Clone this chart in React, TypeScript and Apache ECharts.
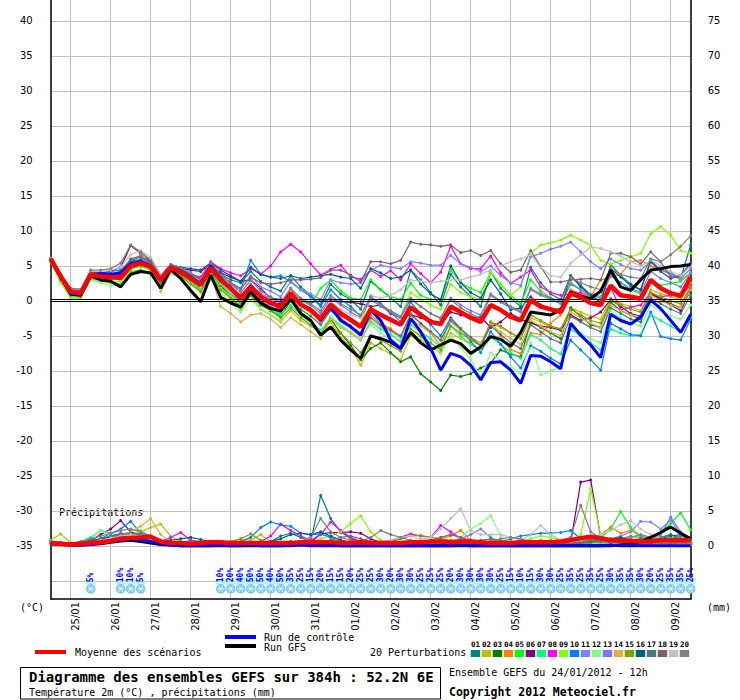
import React, { useEffect, useRef } from "react";
import * as echarts from "echarts";

// lead times (hours after 24/01/2012 12h), 6-hourly
const LEAD_HOURS = [0, 6, 12, 18, 24, 30, 36, 42, 48, 54, 60, 66, 72, 78, 84, 90, 96, 102, 108, 114, 120, 126, 132, 138, 144, 150, 156, 162, 168, 174, 180, 186, 192, 198, 204, 210, 216, 222, 228, 234, 240, 246, 252, 258, 264, 270, 276, 282, 288, 294, 300, 306, 312, 318, 324, 330, 336, 342, 348, 354, 360, 366, 372, 378, 384];
const DAY_LABELS = ["25/01", "26/01", "27/01", "28/01", "29/01", "30/01", "31/01", "01/02", "02/02", "03/02", "04/02", "05/02", "06/02", "07/02", "08/02", "09/02"];
const LEFT_TICKS = [-35, -30, -25, -20, -15, -10, -5, 0, 5, 10, 15, 20, 25, 30, 35, 40];
const RIGHT_TICKS = [0, 5, 10, 15, 20, 25, 30, 35, 40, 45, 50, 55, 60, 65, 70, 75];

// temperature 2m (°C)
const T_MEAN = [6.0, 3.5, 1.3, 1.1, 3.8, 3.5, 3.4, 3.3, 5.0, 5.4, 4.9, 3.0, 4.8, 4.1, 3.2, 2.3, 4.7, 3.0, 1.8, 0.4, 2.0, 0.6, -0.2, -0.9, 1.1, -0.5, -1.3, -2.6, -0.5, -1.8, -2.7, -3.7, -1.2, -2.0, -2.7, -3.4, -0.9, -2.0, -3.0, -3.3, -0.8, -1.6, -2.4, -3.0, -0.6, -1.3, -2.3, -2.8, 0.1, -0.8, -1.2, -1.6, 1.1, 0.5, -0.3, -0.6, 2.2, 0.8, 0.6, 0.3, 3.0, 1.8, 1.1, 0.7, 3.4];
const T_CTRL = [6.0, 3.4, 1.0, 0.9, 3.6, 3.9, 3.8, 4.0, 5.3, 5.6, 5.0, 3.1, 4.9, 4.3, 3.4, 2.5, 5.0, 3.2, 1.8, 0.2, 2.2, 0.5, -0.4, -0.6, 1.1, -0.5, -1.2, -2.8, -0.9, -2.8, -3.7, -4.9, -1.3, -2.8, -5.6, -6.8, -2.5, -4.4, -6.8, -9.9, -7.5, -8.0, -9.2, -11.3, -8.8, -8.7, -9.9, -11.8, -7.8, -7.9, -8.7, -9.7, -3.2, -4.9, -6.3, -8.1, -1.9, -2.8, -3.3, -2.3, 0.1, -1.1, -2.8, -4.5, -1.9];
const T_GFS = [6.0, 3.4, 1.0, 0.8, 3.6, 3.0, 2.8, 2.0, 3.8, 4.2, 4.0, 1.8, 4.5, 3.2, 1.5, -0.1, 3.7, 0.5, -0.3, -0.9, 1.3, -0.3, -1.1, -1.4, 0.3, -1.8, -2.8, -4.9, -3.7, -5.6, -7.0, -8.2, -5.0, -5.4, -5.9, -6.8, -4.5, -6.0, -7.0, -6.3, -5.6, -6.1, -7.5, -6.6, -5.1, -5.5, -6.5, -4.5, -1.6, -1.8, -2.0, -1.3, 1.3, 0.7, 0.3, 1.4, 4.4, 2.0, 1.5, 3.0, 4.4, 4.6, 4.9, 5.0, 5.2];

const T01 = [5.8, 3.6, 1.8, 1.6, 4.0, 3.8, 3.6, 3.8, 5.2, 5.8, 5.0, 3.2, 5.0, 4.4, 3.8, 3.2, 5.2, 3.8, 3.0, 2.6, 4.2, 2.8, 2.0, 1.4, 3.6, 2.0, 0.8, -0.6, 2.4, 1.0, 0.2, -1.2, 2.8, 1.6, 0.4, -0.8, 4.4, 3.0, 1.2, -0.6, 3.8, 2.0, 0.6, -0.8, 4.2, 1.8, 0.4, -0.8, 4.8, 2.6, 1.0, 0.2, 3.6, 2.2, 0.8, -0.2, 5.2, 3.6, 2.4, 1.6, 5.8, 4.4, 4.0, 3.2, 8.0];
const T02 = [5.9, 3.2, 1.0, 0.9, 3.4, 3.2, 3.0, 3.4, 5.6, 6.6, 6.0, 3.6, 4.6, 3.6, 2.4, 1.2, 4.0, 2.0, 0.2, -1.2, 0.8, -1.2, -2.0, -3.0, -1.4, -2.8, -3.6, -4.6, -3.0, -5.2, -6.6, -9.2, -6.0, -6.8, -7.6, -8.4, -5.0, -5.6, -6.6, -7.4, -4.6, -5.4, -6.2, -6.8, -3.2, -3.8, -4.6, -5.2, -2.4, -3.0, -3.8, -4.2, -1.0, -1.6, -2.2, -2.6, 0.4, -0.4, -0.8, -1.4, 1.6, 1.0, 0.6, 0.2, 2.6];
const T03 = [6.0, 3.2, 1.2, 1.0, 3.6, 3.4, 3.2, 3.0, 4.6, 5.0, 4.6, 2.6, 4.4, 3.6, 2.8, 1.8, 4.2, 2.2, 0.6, -0.8, 1.0, -0.6, -1.4, -2.2, 0.0, -1.6, -2.8, -4.4, -2.6, -4.6, -6.4, -8.4, -6.8, -6.0, -7.4, -8.7, -8.0, -10.4, -11.6, -12.8, -10.6, -10.8, -10.4, -9.6, -8.9, -7.0, -7.6, -8.0, -3.0, -3.8, -4.6, -5.4, -1.0, -2.2, -3.4, -3.8, -0.2, -1.4, -2.0, -2.6, 1.0, 0.2, -0.4, -1.0, 1.8];
const T04 = [6.0, 3.6, 1.4, 1.2, 3.8, 3.6, 3.4, 3.6, 5.6, 6.0, 5.2, 2.2, 4.6, 4.2, 3.4, 2.4, 4.4, 3.0, 1.6, 0.2, 2.2, 0.2, -0.6, -1.4, 1.6, -0.4, -1.6, -3.0, -0.8, -2.4, -3.6, -4.8, -2.0, -3.2, -4.0, -5.2, -1.8, -3.2, -4.6, -6.4, -2.4, -4.0, -5.4, -6.4, -3.0, -5.0, -7.0, -7.5, -4.6, -4.8, -3.2, -2.0, 1.6, 1.0, 0.6, 3.0, 3.4, 3.8, 5.6, 5.8, 5.0, 4.4, 3.8, 3.0, 4.0];
const T05 = [5.6, 2.8, 0.6, 0.5, 3.6, 3.2, 2.6, 2.4, 4.2, 4.4, 4.0, 2.2, 4.2, 3.4, 2.6, 1.6, 3.8, 2.4, 1.0, -0.4, 1.2, -0.2, -1.0, -1.8, 1.0, 0.0, -0.6, 1.8, 3.0, 1.4, 0.4, 0.2, 3.0, 1.6, 0.6, 0.2, 2.5, 0.8, 0.2, 0.1, 4.4, 2.6, 1.8, 1.2, 4.1, 2.4, 0.8, -0.4, 3.0, 1.4, 0.4, -0.4, 2.6, 1.6, 1.0, 0.6, 3.8, 2.6, 1.6, 1.0, 3.0, 2.2, 2.5, 2.8, 4.0];
const T06 = [6.1, 3.8, 1.6, 1.4, 4.2, 4.0, 4.2, 4.8, 7.9, 6.8, 5.6, 3.4, 4.8, 4.6, 4.4, 4.2, 5.2, 4.0, 3.4, 2.8, 3.0, 1.8, 0.4, 0.2, 0.1, 0.0, -0.2, 0.0, 0.2, -0.1, -0.2, -0.4, -0.8, -0.6, -1.8, -2.4, -2.0, -2.4, -2.8, -3.4, -1.6, -2.0, -2.4, -2.3, -3.8, -3.0, -1.8, -2.6, -3.2, -3.6, -3.8, -4.2, -2.0, -2.8, -2.4, -1.6, 0.2, -0.8, -1.8, -2.2, 1.0, 0.4, -0.6, -1.4, 1.6];
const T07 = [5.8, 3.0, 0.8, 0.8, 3.2, 3.0, 3.0, 3.2, 4.8, 5.0, 4.4, 2.8, 4.4, 3.8, 2.8, 1.8, 4.4, 2.4, 1.0, -0.4, 1.4, -0.4, -1.2, -2.0, -0.6, -2.0, -3.0, -4.2, -2.4, -3.6, -4.6, -5.6, -3.0, -4.0, -4.8, -5.8, -3.4, -4.4, -5.4, -6.6, -3.6, -5.0, -6.2, -7.2, -5.2, -6.2, -7.4, -8.2, -4.8, -5.6, -6.8, -7.6, -4.0, -5.0, -6.0, -7.0, -4.0, -4.6, -5.0, -4.8, -2.0, -2.8, -3.6, -4.4, -2.4];
const T08 = [6.0, 3.4, 1.2, 1.0, 3.4, 3.6, 3.6, 3.6, 5.0, 5.4, 5.0, 3.4, 4.6, 4.2, 3.8, 3.4, 5.6, 4.6, 4.0, 3.6, 4.6, 3.8, 5.0, 7.0, 8.1, 7.0, 5.3, 3.7, 4.5, 5.1, 3.4, 3.1, 4.4, 3.5, 4.3, 3.0, 5.3, 3.9, 2.6, 4.1, 7.8, 5.3, 4.6, 4.6, 6.4, 4.0, 2.5, 3.4, 4.4, 2.0, 1.2, 0.8, 1.0, 1.2, 0.8, 1.3, 2.0, -1.3, -0.9, -0.6, 1.1, 0.6, 0.8, 0.8, 2.2];
const T09 = [5.6, 2.6, 0.4, 0.4, 3.0, 2.8, 2.6, 2.8, 4.6, 5.0, 4.4, 2.4, 4.2, 3.6, 2.6, 1.4, 3.6, 1.8, 0.6, -0.8, 1.4, 0.0, -0.8, -1.6, 0.6, -0.8, -1.8, -2.8, -0.6, -1.8, -2.6, -3.2, 0.6, -0.6, -1.4, -2.2, 1.2, 0.2, -0.6, -1.2, 2.4, 1.2, 0.6, 0.2, 4.2, 2.4, 0.8, 2.0, 6.8, 8.0, 8.3, 8.7, 9.4, 8.7, 8.0, 5.8, 5.3, 5.8, 6.3, 6.8, 9.6, 10.6, 9.4, 7.2, 6.8];
const T10 = [5.8, 3.4, 1.4, 1.2, 3.8, 4.0, 4.2, 4.4, 5.8, 6.2, 5.4, 3.4, 5.0, 4.6, 3.6, 2.6, 5.0, 3.6, 2.4, 1.6, 5.8, 3.8, 3.4, 3.6, 2.7, 1.6, 0.6, -0.8, 1.6, 0.2, -0.8, -2.2, 0.6, -0.4, -1.6, -3.0, -0.2, -1.8, -3.4, -5.0, -2.4, -4.0, -5.8, -7.4, -4.4, -6.2, -8.0, -9.6, -6.4, -7.2, -8.2, -9.0, -5.6, -7.0, -8.4, -9.9, -3.2, -4.0, -4.8, -5.0, -1.6, -5.1, -5.4, -5.6, -2.6];
const T11 = [6.0, 3.6, 1.4, 1.2, 4.0, 3.8, 3.8, 4.0, 5.6, 6.0, 5.2, 3.2, 5.0, 4.4, 3.8, 3.0, 5.0, 3.6, 2.6, 1.6, 3.6, 2.0, 1.4, 0.6, 2.8, 1.6, 1.0, 0.2, 3.0, 2.6, 2.4, 2.6, 4.4, 5.1, 4.8, 4.6, 5.6, 5.4, 5.1, 5.1, 6.5, 5.3, 4.8, 4.2, 5.0, 3.6, 2.6, 2.2, 6.3, 6.8, 7.4, 7.8, 8.4, 7.0, 5.6, 4.6, 6.0, 5.2, 4.6, 4.4, 5.6, 4.6, 3.8, 3.2, 4.6];
const T12 = [5.6, 2.8, 0.8, 0.6, 3.0, 2.6, 2.2, 2.2, 3.8, 4.2, 3.8, 2.2, 4.0, 3.2, 1.1, -0.1, 3.0, 1.2, -0.2, -1.6, 0.2, -1.2, -2.0, -2.8, -1.0, -2.2, -3.2, -4.4, -2.2, -3.4, -4.4, -5.4, -3.4, -4.6, -5.6, -6.8, -4.0, -5.2, -6.4, -7.6, -5.0, -6.6, -8.4, -11.0, -7.4, -8.6, -9.4, -10.4, -6.0, -10.6, -10.0, -9.4, -3.8, -4.6, -5.4, -6.0, -1.4, -2.4, -3.2, -3.6, -0.6, -1.4, -2.2, -2.6, -0.6];
const T13 = [6.0, 3.6, 1.6, 1.4, 4.0, 3.6, 3.6, 4.0, 5.4, 5.8, 5.0, 3.0, 4.8, 4.2, 3.4, 2.6, 4.8, 3.2, 2.0, 0.8, 2.4, 1.0, 0.4, -0.4, 1.8, 0.2, -0.6, -1.8, 0.4, -0.6, -1.6, -2.4, 0.2, -0.8, -1.6, -2.4, 0.2, -0.8, -1.8, -2.6, 0.4, -0.6, -1.4, -2.0, 1.0, 0.0, -0.8, -1.4, 1.6, 0.8, 0.2, -0.4, 2.4, 1.6, 0.8, 0.4, 3.6, 2.6, 1.8, 1.2, 4.2, 3.2, 2.6, 2.0, 4.0];
const T14 = [6.0, 3.4, 1.2, 1.0, 3.4, 3.0, 2.6, 2.2, 4.6, 6.6, 6.0, 1.3, 4.0, 3.4, 2.4, 1.4, 3.8, -0.8, -1.8, -3.0, -2.0, -1.8, -2.6, -3.8, -2.4, -3.4, -4.4, -5.4, -2.6, -3.8, -4.6, -5.6, -2.8, -3.6, -4.4, -5.2, -2.6, -3.6, -4.6, -5.6, -3.0, -4.2, -5.2, -6.0, -3.4, -4.4, -5.4, -6.2, -2.8, -3.6, -4.4, -5.0, -1.6, -2.4, -3.2, -3.8, -0.6, -1.4, -2.0, -2.4, 0.8, 0.0, -0.6, -1.0, 1.6];
const T15 = [5.8, 3.0, 0.8, 0.6, 3.2, 3.0, 3.0, 3.2, 4.6, 5.0, 4.6, 2.6, 4.4, 3.6, 2.4, 1.4, 3.6, 1.6, 0.4, -0.8, 0.8, -0.6, -1.4, -2.4, -1.0, -2.4, -3.4, -4.6, -3.8, -4.6, -6.0, -7.4, -5.0, -5.6, -6.4, -7.2, -4.0, -5.0, -6.0, -7.0, -3.6, -4.6, -5.6, -6.4, -3.0, -3.6, -4.6, -5.4, -2.0, -2.8, -3.6, -4.0, -1.2, -2.0, -2.8, -3.2, 0.0, -0.6, -1.2, -1.6, 1.2, 0.6, 0.0, -0.4, 2.0];
const T16 = [6.0, 3.8, 1.8, 1.6, 4.2, 4.0, 3.8, 4.2, 5.6, 5.8, 5.2, 3.4, 5.2, 4.8, 4.6, 4.4, 5.4, 4.4, 3.6, 2.8, 4.8, 3.8, 3.4, 3.2, 3.6, 3.2, 3.4, 3.6, 3.8, 3.4, 3.2, 1.8, 4.6, 4.0, 3.2, 3.4, 4.4, 2.4, 1.0, 0.2, 5.0, 2.6, 1.2, 0.4, 3.0, 1.0, -1.3, -1.0, 0.6, -0.6, -1.2, -1.1, 3.6, 2.0, 0.8, -0.2, 4.6, 3.4, 2.2, 1.6, 5.6, 4.2, 3.2, 3.6, 5.4];
const T17 = [5.9, 3.4, 1.2, 1.0, 3.6, 3.4, 3.2, 3.2, 4.8, 5.2, 4.6, 2.8, 4.6, 4.0, 3.0, 2.0, 4.4, 2.6, 1.2, -0.2, 1.6, 0.0, -0.8, -1.6, 0.4, -1.2, -2.2, -3.4, -1.4, -2.6, -3.6, -4.6, -2.4, -3.4, -4.2, -5.0, -2.0, -3.2, -4.4, -5.6, -2.8, -4.0, -5.2, -6.4, -3.6, -4.8, -6.0, -6.8, -3.4, -4.4, -5.4, -6.0, -2.2, -3.0, -3.8, -4.4, -1.0, -1.8, -2.6, -3.0, 0.4, -0.4, -1.2, -1.8, 0.8];
const T18 = [6.0, 3.6, 1.4, 1.2, 4.0, 3.8, 3.8, 4.2, 6.0, 6.4, 5.4, 3.6, 5.2, 4.6, 3.8, 3.0, 5.0, 3.6, 2.6, 1.8, 3.4, 2.6, 2.4, 2.6, 3.0, 3.0, 3.1, 3.3, 4.4, 4.4, 3.7, 2.7, 5.6, 5.6, 5.3, 5.8, 8.4, 8.1, 8.0, 7.8, 8.0, 6.9, 7.2, 6.5, 7.2, 5.3, 4.1, 4.4, 7.2, 4.9, 2.7, 2.7, 3.0, 3.1, 3.2, 3.0, 6.8, 6.8, 6.3, 5.3, 7.0, 5.6, 3.4, 3.6, 5.3];
const T19 = [6.1, 3.8, 1.8, 1.6, 4.2, 4.2, 4.4, 4.8, 6.6, 7.2, 6.2, 3.8, 5.0, 4.4, 3.2, 2.0, 4.4, 2.6, 1.2, 0.0, 1.8, 0.2, -0.6, -1.4, 0.6, -0.8, -1.6, -2.6, -0.2, -1.2, -2.0, -2.4, 0.8, 0.4, 0.8, 1.6, 3.0, 2.8, 2.6, 2.8, 3.0, 3.0, 3.4, 3.8, 4.4, 5.0, 5.6, 6.0, 6.6, 4.8, 3.6, 3.4, 5.4, 6.6, 7.7, 7.5, 7.0, 6.4, 5.6, 5.0, 5.8, 5.0, 4.2, 3.6, 5.0];
const T20 = [6.0, 3.8, 1.8, 1.6, 4.4, 4.4, 4.6, 5.4, 8.0, 7.0, 5.8, 3.6, 5.2, 4.8, 4.0, 3.2, 5.4, 3.8, 2.4, 1.2, 3.0, 1.4, 0.6, -0.2, 1.8, 0.4, -0.4, -1.4, 0.8, -0.4, -1.2, -2.0, 0.6, -0.6, -1.4, -2.2, 0.4, -0.8, -1.8, -2.4, 0.2, -1.0, -1.8, -2.6, 0.8, -0.2, -1.0, -1.6, 1.8, 1.0, 0.4, 0.0, 3.4, 2.6, 2.0, 1.6, 4.6, 3.8, 3.4, 3.2, 6.0, 5.6, 6.6, 7.8, 9.3];

// precipitation (mm / 6h)
const P_MEAN = [0.4, 0.3, 0.2, 0.3, 0.4, 0.5, 0.7, 1.0, 1.1, 1.2, 1.3, 0.6, 0.4, 0.4, 0.3, 0.4, 0.5, 0.5, 0.4, 0.4, 0.4, 0.4, 0.4, 0.4, 0.4, 0.5, 0.5, 0.5, 0.5, 0.4, 0.4, 0.5, 0.4, 0.4, 0.4, 0.4, 0.5, 0.5, 0.6, 0.6, 0.5, 0.6, 0.6, 0.5, 0.4, 0.4, 0.4, 0.5, 0.5, 0.5, 0.5, 0.6, 0.8, 1.1, 1.3, 1.1, 0.8, 0.8, 0.7, 0.6, 0.6, 0.8, 0.8, 0.8, 0.8];
const P_CTRL = [0.3, 0.2, 0.1, 0.1, 0.2, 0.4, 0.6, 0.8, 1.0, 0.8, 0.6, 0.3, 0.1, 0, 0, 0, 0, 0.1, 0, 0, 0.1, 0, 0, 0, 0, 0.1, 0, 0, 0, 0, 0, 0, 0, 0, 0, 0, 0, 0, 0, 0, 0, 0.1, 0, 0, 0, 0, 0, 0, 0, 0, 0, 0, 0, 0, 0, 0, 0.1, 0, 0, 0, 0, 0, 0, 0, 0];
const P_GFS = [0.3, 0.2, 0.1, 0.1, 0.2, 0.3, 0.5, 0.7, 0.8, 0.6, 0.4, 0.2, 0.1, 0, 0, 0, 0, 0, 0, 0, 0, 0, 0, 0, 0.1, 0.2, 0.3, 0.2, 0.1, 0, 0, 0, 0, 0, 0, 0, 0, 0, 0, 0, 0, 0, 0, 0, 0, 0, 0, 0, 0, 0, 0, 0, 0, 0, 0, 0, 0, 0.1, 0.2, 0.6, 1.2, 1.9, 2.7, 1.8, 1.0];

const P01 = [0.6, 0.4, 0.3, 0.4, 0.6, 0.8, 1.0, 1.4, 1.6, 1.8, 1.2, 0.6, 0.3, 0.4, 0.8, 0.6, 0.4, 0.2, 0.2, 0.3, 0.2, 0.4, 0.6, 1.4, 1.8, 1.2, 0.6, 7.2, 3.9, 2.0, 1.0, 0.6, 0.3, 0.2, 0.2, 0.3, 0.2, 0.2, 0.3, 0.4, 0.3, 0.2, 0.2, 0.2, 0.3, 0.2, 0.2, 0.2, 0.4, 0.6, 0.4, 0.3, 0.6, 0.4, 0.5, 0.6, 0.4, 1.2, 0.8, 0.6, 0.8, 1.2, 1.6, 1.0, 0.6];
const P02 = [0.8, 1.7, 0.4, 0.3, 0.4, 0.6, 0.8, 1.0, 1.2, 2.0, 2.6, 3.1, 1.4, 0.6, 0.3, 0.2, 0.2, 0.2, 0.6, 1.0, 0.8, 1.6, 0.6, 0.3, 0.2, 0.2, 0.2, 0.3, 0.2, 0.3, 0.2, 0.4, 0.3, 0.3, 0.2, 0.2, 0.3, 0.4, 0.3, 0.2, 0.2, 0.3, 0.2, 0.2, 0.2, 0.2, 0.3, 0.2, 0.2, 0.3, 0.2, 0.3, 0.2, 0.4, 0.6, 0.3, 0.2, 0.3, 0.5, 0.4, 0.3, 0.2, 0.4, 0.6, 0.4];
const P03 = [0.5, 0.3, 0.2, 0.2, 0.3, 0.5, 0.8, 1.2, 1.4, 1.6, 1.0, 0.5, 0.2, 0.1, 0.1, 0.1, 0.1, 0.1, 0.2, 0.3, 0.2, 0.1, 0.2, 0.4, 0.6, 0.4, 0.2, 0.3, 0.2, 0.2, 0.1, 0.2, 0.3, 0.2, 0.1, 0.1, 0.2, 0.2, 0.1, 0.1, 0.2, 0.2, 0.1, 0.1, 0.2, 0.3, 0.2, 0.1, 0.2, 0.2, 0.3, 0.2, 0.1, 0.3, 0.6, 0.8, 0.5, 0.3, 0.2, 0.3, 0.4, 0.3, 0.2, 0.3, 0.2];
const P04 = [0.5, 0.3, 0.2, 0.4, 0.6, 0.9, 1.2, 1.6, 2.0, 1.5, 1.0, 0.6, 0.4, 0.3, 0.2, 0.2, 0.1, 0.1, 0.2, 0.1, 0.1, 0.2, 0.3, 0.2, 0.2, 0.3, 0.2, 0.3, 0.5, 0.4, 0.3, 0.2, 0.2, 0.1, 0.2, 0.3, 0.4, 0.3, 0.6, 1.0, 1.4, 2.2, 0.8, 0.4, 0.2, 0.2, 0.2, 0.2, 0.3, 0.4, 0.6, 0.5, 0.3, 0.6, 1.0, 1.6, 2.7, 1.8, 2.2, 1.4, 0.8, 1.0, 0.6, 0.4, 0.3];
const P05 = [0.3, 0.2, 0.2, 0.3, 0.5, 0.8, 1.0, 1.2, 1.4, 1.2, 0.8, 0.4, 0.3, 0.2, 0.2, 0.2, 0.3, 0.2, 0.2, 0.2, 0.3, 0.2, 0.2, 0.3, 0.2, 0.2, 0.2, 0.4, 0.6, 0.8, 0.6, 0.4, 0.3, 0.2, 0.2, 0.2, 0.3, 0.4, 0.3, 0.2, 0.2, 0.3, 0.4, 0.3, 0.6, 0.8, 0.5, 0.3, 0.4, 0.6, 0.8, 0.6, 0.4, 0.6, 0.8, 1.2, 2.4, 4.9, 2.6, 1.4, 1.0, 2.0, 3.2, 4.7, 2.3];
const P06 = [0.4, 0.3, 0.3, 0.5, 0.8, 1.6, 2.4, 3.6, 2.0, 1.6, 1.4, 0.8, 0.4, 0.3, 0.2, 0.2, 0.2, 0.2, 0.3, 0.2, 0.2, 0.2, 0.2, 0.3, 0.2, 0.3, 0.5, 1.7, 1.9, 1.9, 2.0, 1.8, 1.0, 0.5, 0.3, 0.2, 0.2, 0.3, 0.2, 0.2, 0.2, 0.3, 0.2, 0.2, 0.3, 0.4, 0.3, 0.2, 0.2, 0.3, 0.2, 0.3, 0.5, 9.1, 9.4, 1.2, 0.6, 0.5, 0.4, 0.3, 0.3, 0.4, 0.3, 0.2, 0.2];
const P07 = [0.4, 0.3, 0.3, 0.6, 1.2, 2.2, 1.8, 1.4, 1.2, 1.0, 0.8, 0.6, 0.4, 0.3, 0.4, 0.3, 0.2, 0.2, 0.1, 0.2, 0.2, 0.1, 0.2, 0.3, 0.4, 0.3, 0.2, 0.3, 0.2, 0.2, 0.3, 0.4, 0.3, 0.2, 0.2, 0.1, 0.2, 0.2, 0.3, 0.2, 0.2, 0.2, 0.3, 0.2, 0.2, 0.3, 0.4, 0.3, 0.4, 0.3, 0.2, 0.3, 0.4, 0.6, 0.4, 0.3, 0.4, 0.6, 0.8, 0.6, 0.5, 0.6, 0.8, 1.0, 0.6];
const P08 = [0.5, 0.4, 0.3, 0.4, 0.6, 1.0, 1.4, 1.8, 1.5, 1.2, 0.8, 0.6, 1.2, 1.9, 0.8, 0.4, 0.3, 0.2, 0.2, 0.2, 0.3, 0.6, 1.4, 3.1, 2.2, 1.4, 0.8, 1.6, 3.4, 2.2, 1.2, 0.6, 0.4, 0.5, 0.8, 1.2, 1.7, 1.4, 1.2, 2.9, 2.0, 1.0, 0.8, 0.6, 0.4, 0.5, 0.6, 0.4, 0.3, 0.4, 0.6, 0.8, 1.2, 0.6, 0.4, 0.3, 0.2, 0.3, 0.2, 0.3, 0.2, 0.3, 0.4, 0.3, 0.2];
const P09 = [0.4, 0.3, 0.2, 0.3, 0.5, 0.7, 1.0, 1.3, 1.6, 2.2, 1.4, 0.6, 0.3, 0.2, 0.2, 0.3, 0.2, 0.2, 0.3, 0.2, 0.2, 0.3, 0.2, 0.2, 0.3, 0.4, 0.6, 1.0, 1.4, 2.0, 3.2, 4.3, 2.0, 0.8, 0.4, 0.3, 0.2, 0.3, 0.4, 0.5, 0.8, 0.9, 0.6, 0.4, 0.6, 0.8, 0.6, 0.7, 1.0, 1.4, 1.2, 0.8, 0.4, 1.6, 8.1, 1.6, 0.6, 1.0, 1.2, 1.0, 0.8, 0.6, 1.2, 0.8, 0.4];
const P10 = [0.5, 0.3, 0.2, 0.3, 0.6, 1.0, 1.8, 2.4, 3.5, 1.8, 1.0, 0.5, 0.3, 0.2, 0.2, 0.2, 0.3, 0.2, 0.3, 0.6, 1.2, 2.6, 3.4, 3.0, 2.8, 1.8, 1.6, 1.7, 1.2, 0.8, 0.5, 0.3, 0.2, 0.2, 0.3, 0.2, 0.2, 0.2, 0.3, 0.2, 0.2, 0.3, 0.2, 0.2, 0.3, 0.6, 1.0, 1.4, 1.6, 1.8, 1.8, 1.9, 2.2, 1.0, 0.6, 0.4, 0.3, 0.2, 0.3, 0.2, 0.2, 0.3, 0.2, 0.2, 0.3];
const P11 = [0.4, 0.3, 0.2, 0.3, 0.5, 0.8, 1.2, 1.6, 1.8, 1.4, 1.0, 0.5, 0.3, 0.2, 0.2, 0.2, 0.2, 0.3, 0.2, 0.2, 0.2, 0.3, 0.2, 0.2, 0.3, 0.2, 0.3, 0.5, 0.4, 0.3, 0.2, 0.3, 0.6, 0.4, 0.3, 0.2, 0.2, 0.3, 0.4, 0.6, 0.6, 1.0, 1.6, 2.4, 1.2, 0.5, 0.3, 0.2, 0.2, 0.3, 0.4, 0.3, 0.2, 0.3, 0.5, 0.8, 1.0, 1.4, 2.0, 3.5, 3.4, 2.4, 3.7, 1.6, 0.8];
const P12 = [0.4, 0.3, 0.2, 0.4, 1.0, 2.2, 1.4, 1.0, 1.2, 1.4, 1.0, 0.6, 0.4, 0.3, 0.2, 0.2, 0.2, 0.2, 0.3, 0.2, 0.3, 0.2, 0.2, 0.3, 0.2, 0.2, 0.3, 0.4, 0.3, 0.2, 0.2, 0.3, 0.2, 0.2, 0.3, 0.2, 0.2, 0.2, 0.3, 0.4, 0.6, 1.2, 2.4, 3.2, 4.3, 1.4, 0.5, 0.3, 0.2, 0.2, 0.3, 0.4, 0.3, 0.2, 0.3, 0.4, 0.3, 0.4, 0.6, 0.4, 0.3, 0.2, 0.3, 0.2, 0.2];
const P13 = [0.5, 0.4, 0.3, 0.4, 0.6, 0.8, 1.0, 1.4, 1.6, 1.8, 1.2, 0.6, 0.4, 0.3, 0.2, 0.2, 0.2, 0.2, 0.2, 0.3, 0.2, 0.2, 0.3, 0.2, 0.3, 0.2, 0.2, 0.3, 0.2, 0.2, 0.3, 0.2, 0.2, 0.3, 0.2, 0.2, 0.2, 0.3, 0.2, 0.2, 0.3, 0.4, 0.3, 0.2, 0.3, 0.2, 0.2, 0.3, 0.2, 0.3, 0.4, 0.3, 0.4, 0.6, 0.8, 1.0, 0.8, 1.0, 1.4, 1.2, 0.8, 1.6, 4.1, 2.0, 1.0];
const P14 = [0.5, 0.3, 0.2, 0.3, 0.5, 0.8, 1.0, 1.4, 2.0, 2.8, 3.9, 1.6, 0.6, 0.3, 0.2, 0.2, 0.2, 0.1, 0.2, 0.1, 0.2, 0.2, 0.3, 0.2, 0.2, 0.3, 0.2, 0.2, 0.3, 0.2, 0.2, 0.2, 0.3, 0.2, 0.2, 0.2, 0.3, 0.2, 0.2, 0.4, 0.6, 0.4, 0.3, 0.2, 0.2, 0.3, 0.2, 0.2, 0.3, 0.2, 0.2, 0.3, 0.4, 0.6, 0.8, 0.6, 0.4, 0.6, 0.8, 0.6, 0.4, 0.3, 0.4, 0.3, 0.2];
const P15 = [0.5, 0.4, 0.3, 0.3, 0.4, 0.6, 0.8, 1.0, 1.2, 1.0, 0.8, 0.6, 0.3, 0.2, 0.2, 0.2, 0.3, 0.4, 0.6, 1.0, 1.7, 0.8, 0.3, 0.2, 0.2, 0.2, 0.3, 0.2, 0.2, 0.3, 0.2, 0.2, 0.3, 0.4, 0.6, 1.0, 1.4, 1.5, 1.2, 1.0, 0.8, 0.6, 0.4, 0.3, 0.3, 0.2, 0.2, 0.3, 0.2, 0.2, 0.3, 0.4, 0.3, 0.2, 0.4, 0.6, 0.8, 0.6, 0.5, 0.4, 0.4, 0.3, 0.4, 0.5, 0.3];
const P16 = [0.6, 0.4, 0.3, 0.5, 0.8, 1.0, 1.2, 1.4, 1.2, 1.0, 0.8, 0.7, 0.8, 1.0, 1.2, 0.9, 0.6, 0.4, 0.3, 0.2, 0.2, 0.3, 0.6, 1.0, 1.6, 1.8, 1.6, 2.0, 1.4, 0.8, 0.4, 0.3, 0.2, 0.2, 0.3, 0.2, 0.2, 0.3, 0.2, 0.2, 0.3, 0.2, 0.2, 0.3, 0.2, 0.2, 0.2, 0.3, 0.2, 0.3, 0.2, 0.2, 0.3, 0.4, 0.6, 0.8, 1.0, 1.2, 0.8, 0.6, 0.8, 1.0, 1.4, 1.6, 1.2];
const P17 = [0.4, 0.3, 0.3, 0.4, 0.6, 1.0, 1.4, 1.6, 1.8, 1.6, 1.2, 0.8, 0.4, 0.3, 0.2, 0.3, 0.4, 0.3, 0.2, 0.2, 0.3, 0.2, 0.2, 0.3, 0.2, 0.2, 0.3, 0.4, 0.6, 0.4, 0.3, 0.2, 0.2, 0.3, 0.2, 0.2, 0.3, 0.2, 0.2, 0.2, 0.3, 0.4, 0.6, 0.8, 1.0, 0.8, 0.5, 0.3, 0.2, 0.2, 0.3, 0.2, 0.3, 0.6, 0.8, 0.6, 0.5, 0.6, 0.8, 1.0, 0.8, 0.6, 1.0, 1.4, 0.8];
const P18 = [0.4, 0.3, 0.3, 0.4, 0.5, 0.7, 0.9, 1.2, 1.4, 1.2, 0.8, 0.5, 0.3, 0.2, 0.2, 0.2, 0.2, 0.2, 0.3, 0.2, 0.2, 0.2, 0.3, 0.2, 0.2, 0.3, 0.4, 0.6, 0.8, 1.2, 1.4, 1.0, 0.6, 0.4, 0.3, 0.3, 0.4, 0.6, 0.8, 1.2, 1.6, 1.2, 0.8, 0.6, 0.4, 0.3, 0.2, 0.2, 0.3, 0.4, 0.3, 0.2, 0.3, 0.4, 0.6, 0.8, 0.6, 0.4, 0.6, 0.8, 0.6, 0.4, 0.3, 0.4, 0.3];
const P19 = [0.5, 0.3, 0.2, 0.3, 0.5, 0.8, 1.1, 1.4, 1.6, 1.4, 1.0, 0.6, 0.4, 0.3, 0.2, 0.2, 0.2, 0.2, 0.3, 0.2, 0.2, 0.3, 0.2, 0.2, 0.3, 0.2, 0.3, 0.4, 0.3, 0.2, 0.2, 0.3, 0.4, 0.6, 0.8, 1.2, 1.4, 1.0, 1.2, 2.4, 3.9, 5.3, 2.2, 1.6, 1.6, 1.6, 1.2, 0.8, 1.6, 2.9, 1.6, 0.8, 0.6, 0.8, 1.2, 1.6, 2.2, 3.0, 3.6, 2.4, 1.6, 1.0, 0.8, 0.6, 0.4];
const P20 = [0.6, 0.5, 0.4, 0.6, 1.0, 1.4, 1.8, 2.2, 2.4, 2.0, 1.4, 0.8, 0.4, 0.3, 0.2, 0.2, 0.2, 0.3, 0.2, 0.2, 0.3, 0.2, 0.2, 0.3, 0.4, 0.6, 1.2, 3.9, 2.0, 1.2, 0.8, 0.6, 1.2, 2.2, 1.6, 1.2, 0.8, 0.6, 0.4, 0.3, 0.2, 0.3, 0.4, 0.5, 0.6, 1.0, 1.2, 1.0, 0.6, 0.8, 0.6, 0.4, 1.2, 5.8, 2.0, 1.0, 0.6, 0.8, 1.2, 1.6, 1.2, 0.8, 0.6, 0.5, 0.4];

// snow probability row (index of 6h step, percentage)
const PROB_INDEX = [4, 7, 8, 9, 17, 18, 19, 20, 21, 22, 23, 24, 25, 26, 27, 28, 29, 30, 31, 32, 33, 34, 35, 36, 37, 38, 39, 40, 41, 42, 43, 44, 45, 46, 47, 48, 49, 50, 51, 52, 53, 54, 55, 56, 57, 58, 59, 60, 61, 62, 63, 64];
const PROB_PCT = [5, 10, 10, 5, 10, 20, 40, 50, 50, 40, 50, 35, 25, 15, 20, 15, 15, 20, 25, 25, 30, 20, 30, 30, 25, 25, 25, 20, 30, 30, 30, 30, 25, 15, 10, 15, 30, 30, 25, 35, 25, 35, 25, 30, 35, 35, 30, 20, 25, 35, 35, 25];

const MEMBER_COLORS = ["#008080", "#c0c000", "#008000", "#ff8000", "#00ff00", "#800080", "#00ff80", "#ff00ff", "#80ff00", "#0080ff", "#8080ff", "#80ff80", "#7878f8", "#e0b040", "#80a000", "#006080", "#507878", "#806070", "#c0c0c0", "#808080"];
const MEMBER_T = [T01, T02, T03, T04, T05, T06, T07, T08, T09, T10, T11, T12, T13, T14, T15, T16, T17, T18, T19, T20];
const MEMBER_P = [P01, P02, P03, P04, P05, P06, P07, P08, P09, P10, P11, P12, P13, P14, P15, P16, P17, P18, P19, P20];

const MONO = '"DejaVu Sans Mono", "Liberation Mono", monospace';
const SANS = '"DejaVu Sans", "Liberation Sans", sans-serif';

function txt(text: string, x: number, y: number, font: string, extra: any = {}) {
  return {
    type: "text",
    x,
    y,
    silent: true,
    style: {
      text,
      font,
      fill: "#000",
      align: "left",
      verticalAlign: "middle",
      textAlign: "left",
      textVerticalAlign: "middle",
      ...extra,
    },
  };
}

export default function App() {
  const ref = useRef<HTMLDivElement>(null);

  useEffect(() => {
    document.body.style.margin = "0";
    const chart = echarts.init(ref.current as HTMLDivElement, null, { renderer: "svg" });
    const isDay = (i: number) => i % 4 === 2;

    const series: any[] = [];
    MEMBER_T.forEach((d, k) => {
      const s: any = {
        type: "line",
        data: d,
        xAxisIndex: 0,
        yAxisIndex: 0,
        symbol: "circle",
        symbolSize: 3,
        showAllSymbol: true,
        lineStyle: { width: 1.2, color: MEMBER_COLORS[k] },
        itemStyle: { color: MEMBER_COLORS[k] },
        emphasis: { disabled: true },
        silent: true,
        z: 2,
      };
      if (k === 0) {
        s.markLine = {
          silent: true,
          symbol: ["none", "none"],
          label: { show: false },
          lineStyle: { color: "#000", width: 1.2, type: "solid" },
          data: [{ yAxis: 0 }, { yAxis: 0.3 }],
        };
      }
      series.push(s);
    });
    MEMBER_P.forEach((d, k) => {
      series.push({
        type: "line",
        data: d,
        xAxisIndex: 0,
        yAxisIndex: 1,
        symbol: "circle",
        symbolSize: 3,
        showAllSymbol: true,
        lineStyle: { width: 1.2, color: MEMBER_COLORS[k] },
        itemStyle: { color: MEMBER_COLORS[k] },
        emphasis: { disabled: true },
        silent: true,
        z: 2,
      });
    });
    const thick = (data: number[], axis: number, color: string, width: number, z: number) => ({
      type: "line",
      data,
      xAxisIndex: 0,
      yAxisIndex: axis,
      symbol: "none",
      lineStyle: { width, color },
      itemStyle: { color },
      emphasis: { disabled: true },
      silent: true,
      z,
    });
    series.push(thick(T_GFS, 0, "#000000", 3, 3));
    series.push(thick(T_CTRL, 0, "#0000ff", 3, 4));
    series.push(thick(T_MEAN, 0, "#ff0000", 4.5, 5));
    series.push(thick(P_GFS, 1, "#000000", 3, 3));
    series.push(thick(P_CTRL, 1, "#0000ff", 3, 4));
    series.push(thick(P_MEAN, 1, "#ff0000", 4.5, 5));

    series.push({
      type: "custom",
      xAxisIndex: 0,
      yAxisIndex: 0,
      silent: true,
      z: 2,
      data: PROB_INDEX.map((ix, k) => [ix, PROB_PCT[k]]),
      renderItem: (params: any, api: any) => {
        const i = api.value(0);
        const pct = api.value(1);
        const base = api.coord([i, -40.55]);
        const fl = api.coord([i, -41.15]);
        const tp = api.coord([i, -40.2]);
        const h = 4 + pct * 0.1;
        const cx = fl[0];
        const cy = fl[1];
        return {
          type: "group",
          children: [
            { type: "rect", shape: { x: base[0] - 5, y: base[1] - h, width: 10, height: h }, style: { fill: "#b8f3fa" } },
            { type: "circle", shape: { cx, cy, r: 4.8 }, style: { fill: "#7cc9f0" } },
            { type: "line", shape: { x1: cx - 3.5, y1: cy, x2: cx + 3.5, y2: cy }, style: { stroke: "#e6f7ff", lineWidth: 1 } },
            { type: "line", shape: { x1: cx - 2, y1: cy - 3, x2: cx + 2, y2: cy + 3 }, style: { stroke: "#e6f7ff", lineWidth: 1 } },
            { type: "line", shape: { x1: cx - 2, y1: cy + 3, x2: cx + 2, y2: cy - 3 }, style: { stroke: "#e6f7ff", lineWidth: 1 } },
            {
              type: "text",
              x: tp[0],
              y: tp[1],
              rotation: Math.PI / 2,
              style: {
                text: pct + "%",
                fill: "#0000ff",
                font: "bold 8px " + MONO,
                align: "left",
                verticalAlign: "middle",
                textAlign: "left",
                textVerticalAlign: "middle",
              },
            },
          ],
        };
      },
    });

    const graphics: any[] = [];
    graphics.push(txt("Précipitations", 59, 512, "10px " + MONO));
    graphics.push(txt("(°C)", 20, 607, "10px " + MONO));
    graphics.push(txt("(mm)", 707, 607, "10px " + MONO));
    graphics.push({ type: "line", silent: true, shape: { x1: 35, y1: 652, x2: 66, y2: 652 }, style: { stroke: "#ff0000", lineWidth: 4 } });
    graphics.push(txt("Moyenne des scénarios", 75, 652, "10px " + MONO));
    graphics.push({ type: "line", silent: true, shape: { x1: 225, y1: 637, x2: 256, y2: 637 }, style: { stroke: "#0000ff", lineWidth: 4 } });
    graphics.push(txt("Run de contrôle", 264, 637, "10px " + MONO));
    graphics.push({ type: "line", silent: true, shape: { x1: 225, y1: 646, x2: 256, y2: 646 }, style: { stroke: "#000000", lineWidth: 4 } });
    graphics.push(txt("Run GFS", 264, 647, "10px " + MONO));
    graphics.push(txt("20 Perturbations", 370, 652, "10px " + MONO));
    MEMBER_COLORS.forEach((c, k) => {
      const x = 470.7 + 11 * k;
      graphics.push({ type: "rect", silent: true, shape: { x, y: 650, width: 9.5, height: 7 }, style: { fill: c } });
      graphics.push(txt(String(k + 1).padStart(2, "0"), x + 4.75, 644.5, "bold 7.5px " + MONO, { align: "center", textAlign: "center" }));
    });
    graphics.push({ type: "rect", silent: true, shape: { x: 20.5, y: 667.5, width: 420, height: 31.5 }, style: { fill: "none", stroke: "#000", lineWidth: 1 } });
    graphics.push(txt("Diagramme des ensembles GEFS sur 384h : 52.2N 6E", 29, 677, "bold 14px " + MONO));
    graphics.push(txt("Température 2m (°C) , précipitations (mm)", 29, 692, "10px " + MONO));
    graphics.push(txt("Ensemble GEFS du 24/01/2012 - 12h", 449, 672, "10px " + MONO));
    graphics.push(txt("Copyright 2012 Meteociel.fr", 449, 692, "bold 11.5px " + MONO));

    const option: any = {
      animation: false,
      backgroundColor: "#ffffff",
      grid: { left: 50.7, right: 49.3, top: 0, bottom: 101, containLabel: false, outerBoundsMode: "none" },
      xAxis: {
        type: "category",
        data: LEAD_HOURS.map(String),
        boundaryGap: false,
        axisLine: { show: true, onZero: false, lineStyle: { color: "#000", width: 1.5 } },
        axisTick: { show: false },
        axisLabel: {
          interval: (i: number) => isDay(i),
          formatter: (_v: string, i: number) => (isDay(i) ? DAY_LABELS[(i - 2) / 4] : ""),
          rotate: 90,
          margin: 3,
          verticalAlign: "top",
          color: "#000",
          fontFamily: SANS,
          fontSize: 10,
        },
        splitLine: { show: true, interval: (i: number) => isDay(i), lineStyle: { color: "#c0c0c0", width: 1 } },
      },
      yAxis: [
        {
          type: "value",
          position: "left",
          min: -42.6,
          max: 43,
          splitNumber: 17,
          axisLine: { show: true, onZero: false, lineStyle: { color: "#000", width: 1.5 } },
          axisTick: { show: false },
          axisLabel: {
            margin: 18,
            color: "#000",
            fontFamily: SANS,
            fontSize: 10,
            formatter: (v: number) => (LEFT_TICKS.indexOf(Math.round(v)) >= 0 && Math.abs(v - Math.round(v)) < 1e-6 ? String(Math.round(v)) : ""),
          },
          splitLine: { show: true, showMinLine: false, showMaxLine: false, lineStyle: { color: "#c0c0c0", width: 1 } },
        },
        {
          type: "value",
          position: "right",
          min: -7.6,
          max: 78,
          splitNumber: 17,
          axisLine: { show: true, onZero: false, lineStyle: { color: "#000", width: 1.5 } },
          axisTick: { show: false },
          axisLabel: {
            margin: 17,
            color: "#000",
            fontFamily: SANS,
            fontSize: 10,
            formatter: (v: number) => (RIGHT_TICKS.indexOf(Math.round(v)) >= 0 && Math.abs(v - Math.round(v)) < 1e-6 ? String(Math.round(v)) : ""),
          },
          splitLine: { show: false },
        },
      ],
      series,
      graphic: { elements: graphics },
    };

    chart.setOption(option);
    return () => chart.dispose();
  }, []);

  return <div ref={ref} style={{ width: 740, height: 700 }} />;
}
